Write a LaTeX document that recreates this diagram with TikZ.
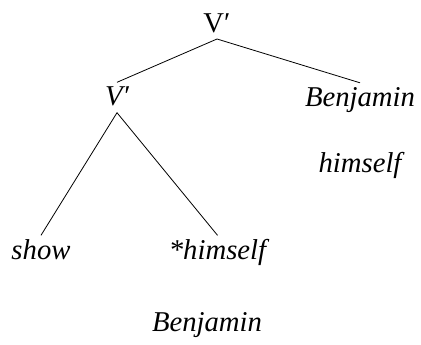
\documentclass[tikz,border=0pt]{standalone}
\usepackage{fontspec}
\setmainfont{Liberation Serif}[ItalicFont={Liberation Serif Italic}]
\begin{document}
\begin{tikzpicture}[x=1pt,y=1pt,
  lab/.style={font=\fontsize{28.7}{34}\selectfont, inner sep=1.5pt, text height=22pt, text depth=5pt, anchor=base},
  itlab/.style={lab, font=\fontsize{28.7}{34}\selectfont\itshape},
  branch/.style={draw=black, line width=0.8pt}]
\useasboundingbox (0,0) rectangle (421,-345);
\node[lab]   (top)   at (217,-32.3) {V\char"2032};
\node[itlab] (vbar)  at (117,-106) {V\char"2032};
\node[itlab] (benj)  at (360,-106.5) {Benjamin};
\node[itlab] (him)   at (360,-172.5) {himself};
\node[itlab] (show)  at (41,-259) {show};
\node[itlab] (shim)  at (217.5,-259) {*himself};
\node[itlab] (benj2) at (207,-331.5) {Benjamin};
\draw[branch] (top.south) -- (vbar.north);
\draw[branch] (top.south) -- (benj.north);
\draw[branch] (vbar.south) -- (show.north);
\draw[branch] (vbar.south) -- (shim.north);
\end{tikzpicture}
\end{document}
